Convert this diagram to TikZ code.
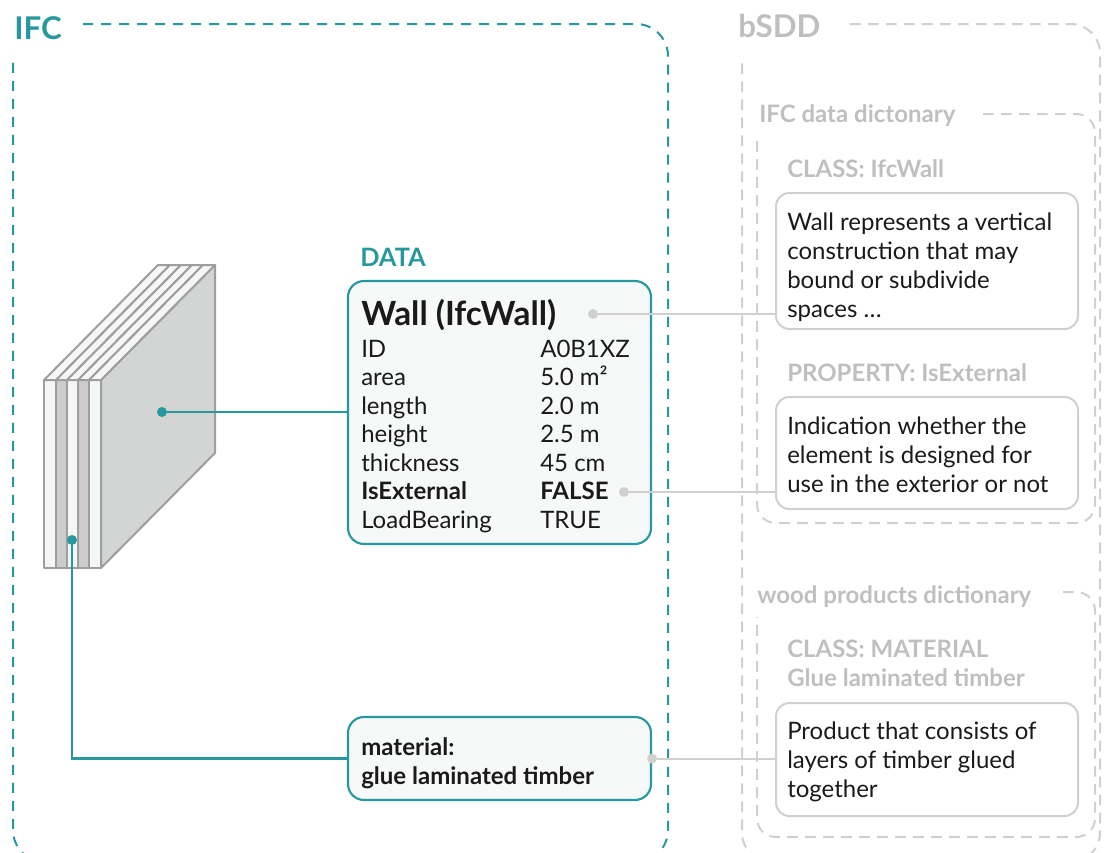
\documentclass[tikz,border=0pt]{standalone}
\usepackage{fontspec}
\setmainfont{Lato}
\usetikzlibrary{positioning,fit}

\definecolor{ifcteal}{HTML}{27999E}
\definecolor{sddgray}{HTML}{BFBFBF}
\definecolor{sddline}{HTML}{D0D0D0}
\definecolor{wallline}{HTML}{9E9E9E}
\definecolor{wallside}{HTML}{D3D4D4}
\definecolor{wallstrip}{HTML}{CDCBCC}
\definecolor{wallwhite}{HTML}{F5F6F6}
\definecolor{boxfill}{HTML}{F7F9F9}
\definecolor{inktext}{HTML}{1A1A1A}

\begin{document}
\begin{tikzpicture}[x=0.75pt, y=-0.75pt,
  ifcframe/.style = {draw=ifcteal, line width=1.5pt, dash pattern=on 7.5pt off 6pt, rounded corners=24pt},
  sddframe/.style = {draw=sddline, line width=1.5pt, dash pattern=on 8pt off 5.5pt, rounded corners=22pt},
  dictframe/.style = {sddframe, rounded corners=14pt},
  bigtitle/.style = {anchor=base west, inner sep=0, font=\fontsize{23.5}{23.5}\selectfont\bfseries},
  header/.style = {anchor=base west, inner sep=0, align=left, text=sddgray, font=\fontsize{18}{21.4}\selectfont\bfseries},
  body/.style = {anchor=base west, inner sep=0, align=left, text=inktext, font=\fontsize{18}{21.75}\selectfont},
  databox/.style = {draw=ifcteal, fill=boxfill, line width=1.6pt, rounded corners=12pt, inner sep=0},
  defbox/.style = {draw=sddline, fill=white, line width=1.5pt, rounded corners=10pt, inner sep=0},
  teallink/.style = {draw=ifcteal, line width=1.9pt},
  graylink/.style = {draw=sddline, line width=1.5pt},
  tealdot/.style = {circle, fill=ifcteal, inner sep=0, minimum size=7.5pt},
  graydot/.style = {circle, fill=sddline, inner sep=0, minimum size=7.5pt},
  layer/.style = {draw=wallline, line width=1.5pt, line join=round}]
  \useasboundingbox (0,0) rectangle (1104,853);
  \clip (0,0) rectangle (1104,853);

  % dashed frames
  \draw[ifcframe] (83,24) -- (668,24) -- (668,862) -- (13,862) -- (13,57);
  \draw[sddframe] (850,24) -- (1100,24) -- (1100,862) -- (742,862) -- (742,58);
  \draw[dictframe] (983,114) -- (1095,114) -- (1095,523) -- (757,523) -- (757,137);
  \draw[dictframe] (1063,592) -- (1095,592) -- (1095,837) -- (757,837) -- (757,617);

  \node[bigtitle, text=ifcteal] (ifclabel) at (14,39) {IFC};
  \node[bigtitle, text=sddgray] (sddlabel) at (738,37) {bSDD};

  % wall with its layers
  \draw[layer, fill=wallside] (101,380) -- (215,265) -- (215,453) -- (101,568) -- cycle;
  \foreach \xa/\xb/\col in {44/56/wallwhite, 56/67/wallstrip, 67/78/wallwhite, 78/89/wallstrip, 89/101/wallwhite} {
    \draw[layer, fill=\col] (\xa,380) rectangle (\xb,568);
    \draw[layer, fill=wallwhite] (\xa,380) -- (\xb,380) -- (\xb+114,265) -- (\xa+114,265) -- cycle;
  }
  \node[tealdot] (wallface) at (162,412) {};
  \node[tealdot] (walllayer) at (72,540) {};

  % IFC data
  \node[text=ifcteal, anchor=base west, inner sep=0, font=\fontsize{19}{19}\selectfont\bfseries] (datalabel) at (360,266) {DATA};
  \node[databox, fit={(348,281) (651,544)}] (data) {};
  \node[anchor=base west, inner sep=0, text=inktext, font=\fontsize{25}{25}\selectfont\bfseries] (wall) at (361,325) {Wall (IfcWall)};
  \foreach \key/\val [count=\i from 0] in {ID/A0B1XZ, area/5.0 m², length/2.0 m, height/2.5 m, thickness/45 cm,
      \textbf{IsExternal}/\textbf{FALSE}, LoadBearing/TRUE} {
    \node[body] (key\i) at (361,{357+28.5*\i}) {\key};
    \node[body] (val\i) at (540,{357+28.5*\i}) {\val};
  }
  \node[databox, fit={(348,717) (651,800)}] (material) {};
  % multi-line nodes sit on the baseline of their last line
  \node[body, font=\fontsize{18}{21.4}\selectfont\bfseries] (mattext) at (361,784) {material:\\glue laminated timber};

  % bSDD definitions
  \node[header] (ifcdict) at (759,122) {IFC data dictonary};
  \node[header] (classhead) at (787,177) {CLASS: IfcWall};
  \node[defbox, fit={(776,193) (1078,329)}] (classbox) {};
  \node[body] (classtext) at (787,317) {Wall represents a vertical\\construction that may\\bound or subdivide\\spaces …};
  \node[header] (prophead) at (787,381) {PROPERTY: IsExternal};
  \node[defbox, fit={(776,397) (1078,509)}] (propbox) {};
  \node[body] (proptext) at (787,492) {Indication whether the\\element is designed for\\use in the exterior or not};
  \node[header] (wooddict) at (757,603) {wood products dictionary};
  \node[header] (woodhead) at (787,686) {CLASS: MATERIAL\\Glue laminated timber};
  \node[defbox, fit={(776,703) (1078,816)}] (woodbox) {};
  \node[body] (woodtext) at (787,797) {Product that consists of\\layers of timber glued\\together};

  % links
  \node[graydot] (walldot) at (593,314) {};
  \node[graydot] (falsedot) at (624,492) {};
  \node[graydot] (matdot) at (material.east) {};
  \draw[graylink] (walldot) -- (walldot -| classbox.west);
  \draw[graylink] (falsedot) -- (falsedot -| propbox.west);
  \draw[graylink] (matdot) -- (matdot -| woodbox.west);
  \draw[teallink] (wallface) -- (wallface -| data.west);
  \draw[teallink] (walllayer) |- (material.west);
\end{tikzpicture}
\end{document}
